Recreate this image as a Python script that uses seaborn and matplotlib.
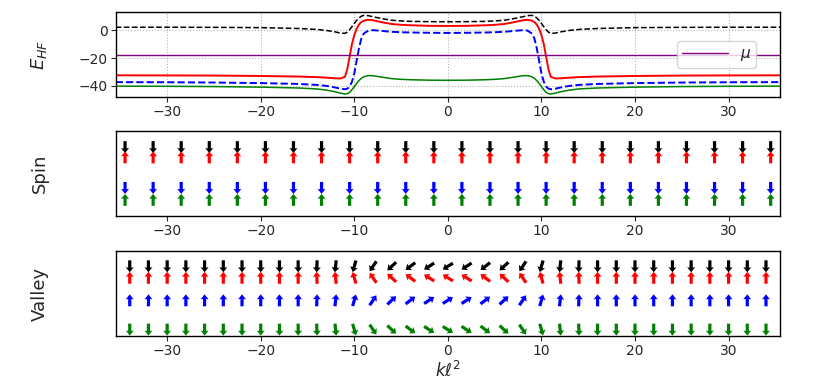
import numpy as np
import pandas as pd
import seaborn as sns
import matplotlib
matplotlib.use("Agg")
import matplotlib.pyplot as plt

# --- energy bands ---
k_e = [-35.5, -30, -25, -20, -16, -14, -13, -12, -11.5, -11, -10.75, -10.5, -10.25,
       -10, -9.75, -9.5, -9.25, -9, -8.5, -8, -7, -6, -5, -4, -2,
       0,
       2, 4, 5, 6, 7, 8, 8.5, 9, 9.25, 9.5, 9.75, 10, 10.25, 10.5, 10.75, 11,
       11.5, 12, 13, 14, 16, 20, 25, 30, 35.5]

e_black = [2.1, 2.1, 2.0, 1.8, 1.2, 0.5, -0.2, -1.3, -2.1, -2.3, -1.4, 0.3, 2.5,
           4.8, 7.0, 8.8, 10.0, 10.6, 10.4, 9.6, 8.2, 7.1, 6.6, 6.3, 6.1,
           6.0,
           6.1, 6.3, 6.6, 7.1, 8.2, 9.6, 10.4, 10.6, 10.0, 8.8, 7.0, 4.8, 2.5, 0.3, -1.4, -2.3,
           -2.1, -1.3, -0.2, 0.5, 1.2, 1.8, 2.0, 2.1, 2.1]

e_red = [-32.4, -32.5, -32.6, -32.9, -33.3, -33.7, -34.1, -34.6, -34.7, -33.5, -28.0, -19.0, -10.0,
         -3.5, 1.0, 4.0, 5.8, 6.8, 7.4, 7.1, 5.6, 4.4, 3.8, 3.5, 3.1,
         3.0,
         3.1, 3.5, 3.8, 4.4, 5.6, 7.1, 7.4, 6.8, 5.8, 4.0, 1.0, -3.5, -10.0, -19.0, -28.0, -33.5,
         -34.7, -34.6, -34.1, -33.7, -33.3, -32.9, -32.6, -32.5, -32.4]

e_blue = [-37.3, -37.4, -37.6, -38.0, -38.6, -39.3, -40.0, -41.2, -42.0, -42.4, -42.0, -40.5, -37.0,
          -31.0, -22.0, -13.0, -6.0, -2.5, -0.3, 0.0, -0.6, -1.2, -1.5, -1.7, -1.9,
          -2.0,
          -1.9, -1.7, -1.5, -1.2, -0.6, 0.0, -0.3, -2.5, -6.0, -13.0, -22.0, -31.0, -37.0, -40.5, -42.0, -42.4,
          -42.0, -41.2, -40.0, -39.3, -38.6, -38.0, -37.6, -37.4, -37.3]

e_green = [-40.2, -40.3, -40.5, -40.9, -41.5, -42.2, -43.0, -44.3, -45.2, -45.8, -45.6, -44.6, -42.8,
           -40.5, -38.2, -36.2, -34.6, -33.5, -32.6, -32.7, -33.8, -34.8, -35.3, -35.6, -35.9,
           -36.0,
           -35.9, -35.6, -35.3, -34.8, -33.8, -32.7, -32.6, -33.5, -34.6, -36.2, -38.2, -40.5, -42.8, -44.6, -45.6, -45.8,
           -45.2, -44.3, -43.0, -42.2, -41.5, -40.9, -40.5, -40.3, -40.2]

mu = -18.0

# --- spin panel ---
k_spin = [-34.5, -31.5, -28.5, -25.5, -22.5, -19.5, -16.5, -13.5, -10.5, -7.5, -4.5, -1.5,
          1.5, 4.5, 7.5, 10.5, 13.5, 16.5, 19.5, 22.5, 25.5, 28.5, 31.5, 34.5]
spin_rows = {"black": (0.81, -1), "red": (0.69, 1), "blue": (0.33, -1), "green": (0.19, 1)}

# --- valley panel: tilt from vertical (deg) ---
k_valley = [-34, -32, -30, -28, -26, -24, -22, -20, -18, -16, -14, -12, -10, -8, -6, -4, -2,
            0, 2, 4, 6, 8, 10, 12, 14, 16, 18, 20, 22, 24, 26, 28, 30, 32, 34]
tilt = [0, 0, 0, 0, 0, 0, 0, 0, 0, 0, 2, 6, 16, 34, 47, 53, 57,
        58, 57, 53, 47, 34, 16, 6, 2, 0, 0, 0, 0, 0, 0, 0, 0, 0, 0]
# row: (y, base direction, tilt sign in x)
valley_rows = {"black": (0.82, -1, -1), "red": (0.685, 1, -1),
               "blue": (0.42, 1, 1), "green": (0.075, -1, 1)}

sns.set_style("ticks")
plt.rcParams["font.family"] = ["DejaVu Sans"]

fig = plt.figure(figsize=(8.3, 3.82), dpi=100)
ax_e = fig.add_axes([0.1394, 0.746, 0.8004, 0.2225])
ax_s = fig.add_axes([0.1394, 0.4346, 0.8004, 0.2225])
ax_v = fig.add_axes([0.1394, 0.1204, 0.8004, 0.2225])

# energy
sns.lineplot(x=k_e, y=e_black, ax=ax_e, color="black", linestyle="--", lw=1.1)
sns.lineplot(x=k_e, y=e_red, ax=ax_e, color="red", lw=1.4)
sns.lineplot(x=k_e, y=e_blue, ax=ax_e, color="blue", linestyle="--", lw=1.4)
sns.lineplot(x=k_e, y=e_green, ax=ax_e, color="green", lw=1.1)
sns.lineplot(x=[-35.5, 35.5], y=[mu, mu], ax=ax_e, color="purple", lw=1.0, label=r"$\mu$")
ax_e.set_ylim(-48, 13)
ax_e.set_yticks([0, -20, -40])
ax_e.grid(True, linestyle=":", color="0.7", linewidth=0.8)
ax_e.legend(loc="center right", fontsize=11, handlelength=3.0, framealpha=0.8,
            borderaxespad=1.6, borderpad=0.3)
ax_e.set_ylabel(r"$E_{HF}$", fontsize=13)

quiv = dict(pivot="middle", angles="uv", scale_units="inches", scale=1 / 0.12,
            units="inches", width=0.032, headwidth=2.5, headlength=1.6,
            headaxislength=1.45)

for col, (y, d) in spin_rows.items():
    n = len(k_spin)
    ax_s.quiver(k_spin, [y] * n, [0] * n, [d] * n, color=col, **quiv)
ax_s.set_ylim(0, 1)
ax_s.set_yticks([])
ax_s.set_ylabel("Spin", fontsize=13)

rad = np.deg2rad(tilt)
for col, (y, d, sx) in valley_rows.items():
    u = sx * np.sin(rad)
    v = d * np.cos(rad)
    ax_v.quiver(k_valley, [y] * len(k_valley), u, v, color=col, **quiv)
ax_v.set_ylim(0, 1)
ax_v.set_yticks([])
ax_v.set_ylabel("Valley", fontsize=13)
ax_v.set_xlabel(r"$k\ell^2$", fontsize=12, labelpad=2)

for ax in (ax_e, ax_s, ax_v):
    ax.set_xlim(-35.5, 35.5)
    ax.set_xticks([-30, -20, -10, 0, 10, 20, 30])
    ax.tick_params(labelsize=10, pad=2)
    for s in ax.spines.values():
        s.set_visible(True)
        s.set_color("black")
        s.set_linewidth(1.0)
    ax.yaxis.set_label_coords(-0.1, 0.5)

fig.savefig("out.png", dpi=100)
